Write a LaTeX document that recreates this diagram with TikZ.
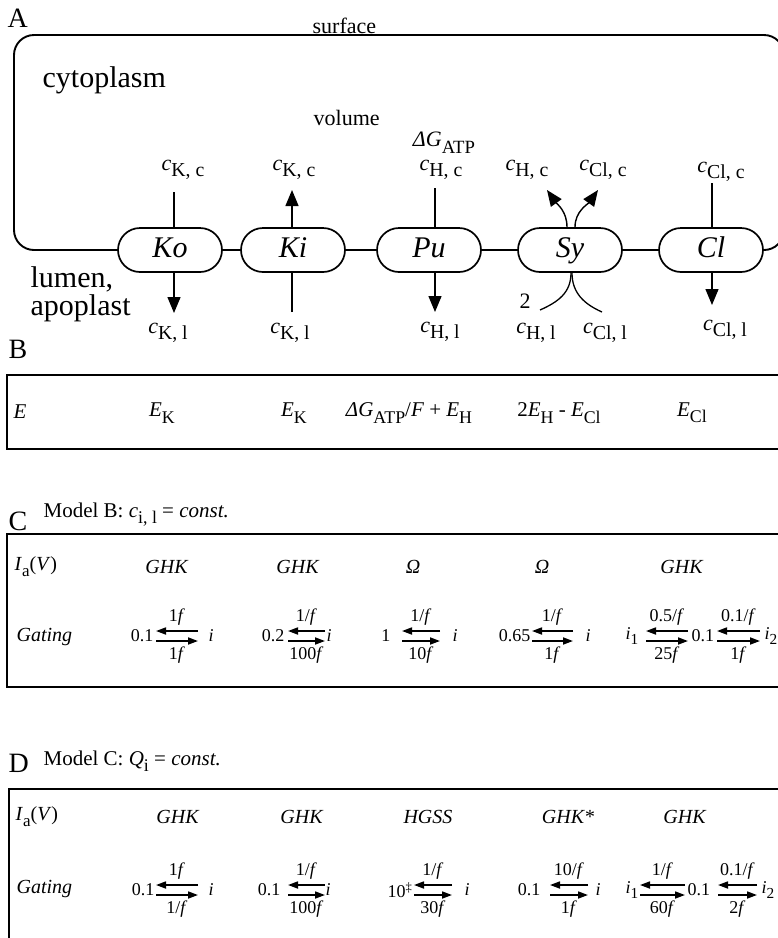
\documentclass[tikz,border=0pt]{standalone}
\usepackage{fontspec}
\setmainfont{Liberation Serif}
\usetikzlibrary{arrows.meta,calc}
\newcommand\sub[1]{\raisebox{-0.3em}{\scalebox{0.85}{#1}}}
\newcommand\conc[1]{\textit{c}\raisebox{-0.25em}{\scalebox{0.9}{#1}}}
\newcommand\eqrx[6]{%
 \coordinate (#1l) at (#2,#4);
 \coordinate (#1r) at (#3,#4);
 \draw[eqa] ([yshift=5pt]#1r) -- ([yshift=5pt]#1l);
 \draw[eqa] ([yshift=-5pt]#1l) -- ([yshift=-5pt]#1r);
 \node[rate] (#1t) at ($(#1l)!0.5!(#1r)+(0,-19)$) {#5};
 \node[rate] (#1b) at ($(#1l)!0.5!(#1r)+(0,19)$) {#6};}
\begin{document}
\begin{tikzpicture}[x=1pt,y=-1pt,line width=1.3pt,
 pill/.style={draw, line width=1.7pt, rounded corners=22pt, minimum width=104pt, minimum height=44pt, inner sep=0pt, text height=20pt, text depth=6pt, fill=white, font=\fontsize{30}{30}\selectfont\itshape},
 lab/.style={inner sep=0pt, font=\fontsize{22}{24}\selectfont},
 big/.style={inner sep=0pt, font=\fontsize{30}{30}\selectfont},
 panel/.style={inner sep=0pt, font=\fontsize{28}{28}\selectfont},
 titl/.style={inner sep=0pt, font=\fontsize{21}{24}\selectfont},
 tbl/.style={inner sep=0pt, font=\fontsize{20}{24}\selectfont},
 btxt/.style={inner sep=0pt, font=\fontsize{21}{24}\selectfont},
 rate/.style={inner sep=0pt, font=\fontsize{18}{20}\selectfont},
 arr/.style={line width=1.4pt, -{Triangle[length=16pt,width=13pt]}},
 eqa/.style={line width=1.7pt, -{Triangle[length=10pt,width=7pt]}},
 frame/.style={draw, line width=1.8pt},
 cell/.style={draw, line width=1.9pt, rounded corners=20pt}]
\useasboundingbox (0,0) rectangle (778,938);
\clip (0,0) rectangle (778,938);

% ---------------- Panel A ----------------
\node[panel, anchor=base west] (Alet) at (7,27) {A};
\node[lab, anchor=base west] (surf) at (312,33) {surface};
\node[big, anchor=base west] (cyto) at (42,87) {cytoplasm};
\node[lab, anchor=base west] (vol) at (313,125) {volume};
\node[big, anchor=base west] (lum) at (30,287) {lumen,};
\node[big, anchor=base west] (apo) at (30,315) {apoplast};

\node[pill] (Ko) at (170,250) {Ko};
\node[pill] (Ki) at (293,250) {Ki};
\node[pill] (Pu) at (429,250) {Pu};
\node[pill] (Sy) at (570,250) {Sy};
\node[pill] (Cl) at (711,250) {Cl};

\draw[cell] (Ko.west) -- (14,250) -- (14,35) -- (784,35) -- (784,250) -- (Cl.east);
\draw (Ko.east) -- (Ki.west);
\draw (Ki.east) -- (Pu.west);
\draw (Pu.east) -- (Sy.west);
\draw (Sy.east) -- (Cl.west);

% Ko
\node[lab] (KocT) at (183,170) {\conc{K, c}};
\node[lab] (KocB) at (168,333) {\conc{K, l}};
\coordinate (koT) at (174,192);
\coordinate (koB) at (174,313);
\draw (koT) -- (koT |- Ko.north);
\draw[arr] (koB |- Ko.south) -- (koB);
% Ki
\node[lab] (KicT) at (294,170) {\conc{K, c}};
\node[lab] (KicB) at (290,333) {\conc{K, l}};
\coordinate (kiT) at (292,190);
\coordinate (kiB) at (292,312);
\draw[arr] (kiT |- Ki.north) -- (kiT);
\draw (kiB) -- (kiB |- Ki.south);
% Pu
\node[lab] (dG) at (444,143) {\textit{ΔG}\sub{ATP}};
\node[lab] (PucT) at (441,170) {\conc{H, c}};
\node[lab] (PucB) at (440,332) {\conc{H, l}};
\coordinate (puT) at (435,188);
\coordinate (puB) at (435,312);
\draw (puT) -- (puT |- Pu.north);
\draw[arr] (puB |- Pu.south) -- (puB);
% Sy
\node[lab] (SyHc) at (527,170) {\conc{H, c}};
\node[lab] (SyClc) at (603,170) {\conc{Cl, c}};
\node[lab] (SyHl) at (536,333) {\conc{H, l}};
\node[lab] (SyCll) at (605,333) {\conc{Cl, l}};
\node[lab] (two) at (525,301) {2};
\coordinate (syA) at (540,310);
\coordinate (syB) at (602,312);
\coordinate (syC) at (547,190);
\coordinate (syD) at (598,190);
\draw (syA) .. controls +(18,-8) and +(0,20) .. ([xshift=1pt]Sy.south);
\draw (syB) .. controls +(-18,-8) and +(0,20) .. ([xshift=2pt]Sy.south);
\draw[arr] ([xshift=-3pt]Sy.north) .. controls +(0,-16) and +(10,14) .. (syC);
\draw[arr] ([xshift=5pt]Sy.north) .. controls +(0,-16) and +(-10,14) .. (syD);
% Cl
\node[lab] (ClcT) at (721,172) {\conc{Cl, c}};
\node[lab] (ClcB) at (725,330) {\conc{Cl, l}};
\coordinate (clT) at (712,183);
\coordinate (clB) at (712,305);
\draw (clT) -- (clT |- Cl.north);
\draw[arr] (clB |- Cl.south) -- (clB);

% ---------------- Panel B ----------------
\node[panel, anchor=base west] (Blet) at (8,358) {B};
\draw[frame] (7,375) rectangle (800,449);
\node[btxt, anchor=west] (BE) at (13,412) {\textit{E}};
\node[btxt] (B1) at (162,413) {\textit{E}\sub{K}};
\node[btxt] (B2) at (294,413) {\textit{E}\sub{K}};
\node[btxt] (B3) at (409,413) {\textit{ΔG}\sub{ATP}/\textit{F} + \textit{E}\sub{H}};
\node[btxt] (B4) at (559,413) {2\textit{E}\sub{H} - \textit{E}\sub{Cl}};
\node[btxt] (B5) at (692,413) {\textit{E}\sub{Cl}};

% ---------------- Panel C ----------------
\node[panel, anchor=base west] (Clet) at (8,530) {C};
\node[titl, anchor=base west] (Ctitle) at (43,517) {Model B: \textit{c}\sub{i, l} = \textit{const.}};
\draw[frame] (7,534) rectangle (800,687);
\node[tbl, anchor=west] (CIa) at (14,567) {\textit{I}\sub{a}(\textit{V})};
\node[tbl] (Cm1) at (167,567) {\textit{GHK}};
\node[tbl] (Cm2) at (298,567) {\textit{GHK}};
\node[tbl] (Cm3) at (413,567) {\textit{Ω}};
\node[tbl] (Cm4) at (542,567) {\textit{Ω}};
\node[tbl] (Cm5) at (682,567) {\textit{GHK}};
\node[tbl, anchor=west] (Cgat) at (16,637) {\textit{Gating}};
\node[rate, anchor=east] (Ca1) at (154,636) {0.1};
\eqrx{Ce1}{156}{198}{636}{1\textit{f}}{1\textit{f}}
\node[rate] (Ci1) at (211,636) {\textit{i}};
\node[rate, anchor=east] (Ca2) at (285,636) {0.2};
\eqrx{Ce2}{288}{325}{636}{1/\textit{f}}{100\textit{f}}
\node[rate] (Ci2) at (329,636) {\textit{i}};
\node[rate, anchor=east] (Ca3) at (391,636) {1};
\eqrx{Ce3}{402}{440}{636}{1/\textit{f}}{10\textit{f}}
\node[rate] (Ci3) at (455,636) {\textit{i}};
\node[rate, anchor=east] (Ca4) at (531,636) {0.65};
\eqrx{Ce4}{532}{573}{636}{1/\textit{f}}{1\textit{f}}
\node[rate] (Ci4) at (588,636) {\textit{i}};
\node[rate] (Ci5) at (632,636) {\textit{i}\sub{1}};
\eqrx{Ce5}{646}{688}{636}{0.5/\textit{f}}{25\textit{f}}
\node[rate, anchor=west] (Ca5) at (691,636) {0.1};
\eqrx{Ce6}{717}{760}{636}{0.1/\textit{f}}{1\textit{f}}
\node[rate, anchor=west] (Ci6) at (764,636) {\textit{i}\sub{2}};

% ---------------- Panel D ----------------
\node[panel, anchor=base west] (Dlet) at (8,772) {D};
\node[titl, anchor=base west] (Dtitle) at (43,765) {Model C: \textit{Q}\sub{i} = \textit{const.}};
\draw[frame] (9,789) rectangle (800,960);
\node[tbl, anchor=west] (DIa) at (15,817) {\textit{I}\sub{a}(\textit{V})};
\node[tbl] (Dm1) at (178,817) {\textit{GHK}};
\node[tbl] (Dm2) at (302,817) {\textit{GHK}};
\node[tbl] (Dm3) at (428,817) {\textit{HGSS}};
\node[tbl] (Dm4) at (568,817) {\textit{GHK*}};
\node[tbl] (Dm5) at (685,817) {\textit{GHK}};
\node[tbl, anchor=west] (Dgat) at (16,889) {\textit{Gating}};
\node[rate, anchor=east] (Da1) at (155,890) {0.1};
\eqrx{De1}{156}{198}{890}{1\textit{f}}{1/\textit{f}}
\node[rate] (Di1) at (211,890) {\textit{i}};
\node[rate, anchor=east] (Da2) at (281,890) {0.1};
\eqrx{De2}{288}{325}{890}{1/\textit{f}}{100\textit{f}}
\node[rate] (Di2) at (328,890) {\textit{i}};
\node[rate, anchor=east] (Da3) at (413,890) {10\textsuperscript{‡}};
\eqrx{De3}{414}{452}{890}{1/\textit{f}}{30\textit{f}}
\node[rate] (Di3) at (467,890) {\textit{i}};
\node[rate, anchor=east] (Da4) at (541,890) {0.1};
\eqrx{De4}{550}{588}{890}{10/\textit{f}}{1\textit{f}}
\node[rate] (Di4) at (598,890) {\textit{i}};
\node[rate] (Di5) at (632,890) {\textit{i}\sub{1}};
\eqrx{De5}{640}{685}{890}{1/\textit{f}}{60\textit{f}}
\node[rate, anchor=west] (Da5) at (687,890) {0.1};
\eqrx{De6}{718}{757}{890}{0.1/\textit{f}}{2\textit{f}}
\node[rate, anchor=west] (Di6) at (761,890) {\textit{i}\sub{2}};
\end{tikzpicture}
\end{document}
